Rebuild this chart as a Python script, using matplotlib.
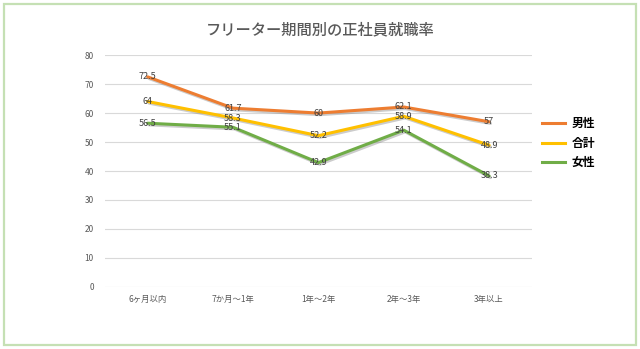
import matplotlib.pyplot as plt
import matplotlib.patheffects as pe
from matplotlib.patches import Rectangle
from matplotlib.lines import Line2D

plt.rcParams['font.family'] = ['Noto Sans CJK JP', 'DejaVu Sans']

categories = ['6ヶ月以内', '7か月～1年', '1年～2年', '2年～3年', '3年以上']
male = [72.5, 61.7, 60, 62.1, 57]
total = [64, 58.3, 52.2, 58.9, 48.9]
female = [56.5, 55.1, 42.9, 54.1, 38.3]

series = [('男性', male, '#ED7D31'),
          ('合計', total, '#FFC000'),
          ('女性', female, '#70AD47')]

fig = plt.figure(figsize=(6.4, 3.49), dpi=100)
ax = fig.add_axes([0.164, 0.178, 0.667, 0.664])

# light green frame round the whole chart
fig.patches.append(Rectangle((0.006, 0.012), 0.988, 0.976, transform=fig.transFigure,
                             fill=False, edgecolor='#C5E0B4', linewidth=1.6))

x = range(len(categories))
shadow = [pe.SimpleLineShadow(offset=(1, -1.2), shadow_color='#808080', alpha=0.4),
          pe.Normal()]
handles = []
for name, vals, color in series:
    ax.plot(x, vals, color=color, linewidth=2.2, path_effects=shadow,
            solid_capstyle='round', zorder=3)
    handles.append(Line2D([], [], color=color, linewidth=2.2, label=name))
    for xi, v in zip(x, vals):
        ax.text(xi, v, f'{v:g}', ha='center', va='center', fontsize=6.5,
                color='#404040', zorder=4)

ax.set_xlim(-0.5, len(categories) - 0.5)
ax.set_ylim(0, 80)
ax.set_yticks(range(0, 81, 10))
ax.set_xticks(list(x))
ax.set_xticklabels(categories)
ax.tick_params(axis='both', length=0, labelsize=6, labelcolor='#595959')
ax.tick_params(axis='y', pad=8)
ax.tick_params(axis='x', pad=6)
ax.grid(axis='y', color='#D9D9D9', linewidth=0.8)
ax.set_axisbelow(True)
for s in ax.spines.values():
    s.set_visible(False)

fig.text(0.5, 0.915, 'フリーター期間別の正社員就職率', ha='center', va='center',
         fontsize=11, color='#595959', fontweight='medium')

ax.legend(handles=handles, loc='center left', bbox_to_anchor=(1.0, 0.62),
          frameon=False, handlelength=1.9, handletextpad=0.6, labelspacing=0.55,
          prop={'size': 8.5, 'weight': 'bold'})

fig.savefig('out.png', dpi=100)
